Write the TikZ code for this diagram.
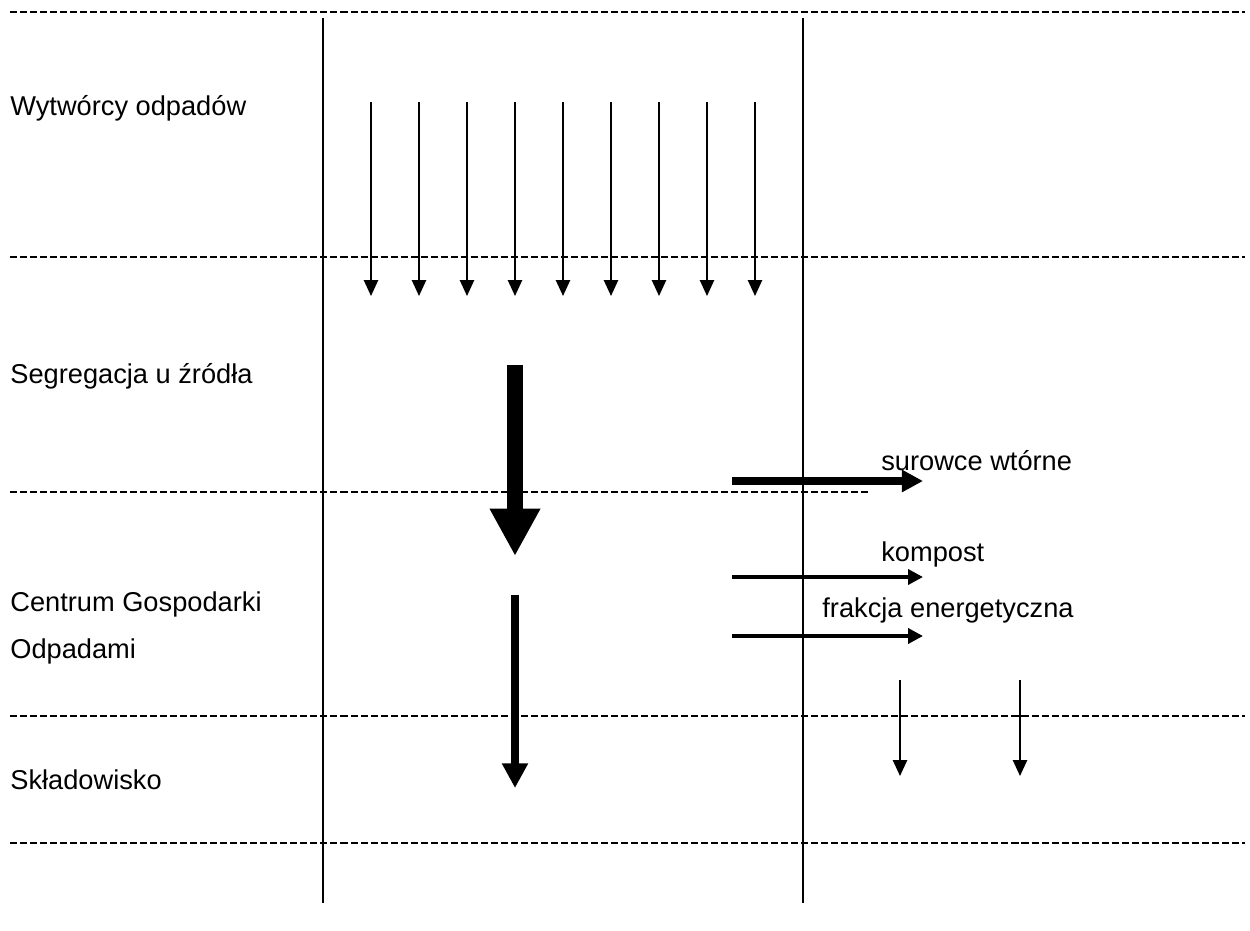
\documentclass[tikz,border=0pt]{standalone}
\usepackage{fontspec}
\setmainfont{Liberation Sans}
\usetikzlibrary{arrows.meta}

\begin{document}
\begin{tikzpicture}[x=0.02cm, y=-0.02cm, every node/.style={
	anchor=west
	, inner sep=0pt
	, font=\fontsize{15.5}{18}\selectfont
}, level/.style={dash pattern=on 4pt off 1.7pt, line width=1pt}
, lane/.style={line width=0.8pt}
, thinflow/.style={line width=1.1pt, -{Triangle[width=8pt, length=9pt]}}
, mainflow/.style={line width=9pt, -{Triangle[width=27pt, length=27pt]}}
, restflow/.style={line width=4.5pt, -{Triangle[width=14pt, length=14pt]}}
, rawflow/.style={line width=4pt, -{Triangle[width=12pt, length=12pt]}}
, sideflow/.style={line width=2.2pt, -{Triangle[width=8.5pt, length=8.5pt]}}
]
\useasboundingbox (0,0) rectangle (1250,930);

% levels
\foreach \y in {12,257,716,843}{
	\draw[level] (10,\y) -- (1245,\y);
}
\draw[level] (10,492) -- (870,492);

% lanes
\draw[lane] (323,18) -- (323,903);
\draw[lane] (803,18) -- (803,903);

% stages
\node (producers) at (10,108) {Wytwórcy odpadów};
\node (sorting) at (10,376) {Segregacja u źródła};
\node (centre) at (10,604) {Centrum Gospodarki};
\node (centre2) at (10,651) {Odpadami};
\node (landfill) at (10,780) {Składowisko};

% products
\node (recycl) at (881,461) {surowce wtórne};
\node (compost) at (881,554) {kompost};
\node (energy) at (822,610) {frakcja energetyczna};

% waste from producers
\foreach [count=\i] \x in {371,419,...,755}{
	\coordinate (src\i) at (\x,102);
	\coordinate (bin\i) at (\x,296);
	\draw[thinflow] (src\i) -- (bin\i);
}

\coordinate (mixtop) at (515,365);
\coordinate (mixbot) at (515,556);
\draw[mainflow] (mixtop) -- (mixbot);

\coordinate (resttop) at (515,595);
\coordinate (restbot) at (515,788);
\draw[restflow] (resttop) -- (restbot);

\coordinate (rawin) at (732,481);
\coordinate (rawout) at (923,481);
\draw[rawflow] (rawin) -- (rawout);

\foreach \name/\y in {comp/577, ener/636}{
	\coordinate (\name in) at (732,\y);
	\coordinate (\name out) at (923,\y);
	\draw[sideflow] (\name in) -- (\name out);
}

\foreach \x in {900,1020}{
	\coordinate (dump\x) at (\x,680);
	\coordinate (pit\x) at (\x,776);
	\draw[thinflow] (dump\x) -- (pit\x);
}

\end{tikzpicture}
\end{document}
